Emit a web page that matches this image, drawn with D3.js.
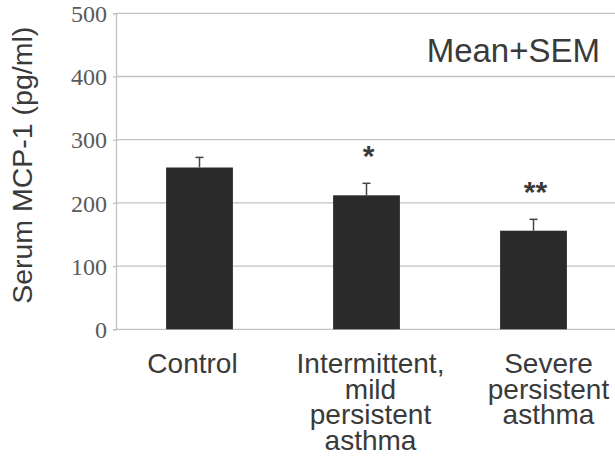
<!DOCTYPE html>
<html>
<head>
<meta charset="utf-8">
<script src="https://cdn.jsdelivr.net/npm/d3@7"></script>
<style>
  html, body { margin: 0; padding: 0; background: #fff; }
  svg { display: block; }
</style>
</head>
<body>
<svg id="chart" width="615" height="458"></svg>
<script>
// ---- data ----
const categories = ["Control", "Intermittent, mild persistent asthma", "Severe persistent asthma"];
const categoryLines = [["Control"], ["Intermittent,", "mild", "persistent", "asthma"], ["Severe", "persistent", "asthma"]];
const means = [256, 212, 156];
const sems = [16, 19, 18];
const significance = ["", "*", "**"];
const yTicks = [0, 100, 200, 300, 400, 500];
const yLabel = "Serum MCP-1 (pg/ml)";
const note = "Mean+SEM";

// ---- layout ----
const svg = d3.select("#chart");
const plotLeft = 116, plotRight = 617, plotTop = 13.3, plotBottom = 329.3;

const x = d3.scaleBand().domain(categories).range([plotLeft, plotRight]).paddingInner(0.6).paddingOuter(0.3);
const y = d3.scaleLinear().domain([0, 500]).range([plotBottom, plotTop]);

// gridlines
svg.append("g").selectAll("line").data(yTicks).join("line")
  .attr("x1", plotLeft).attr("x2", 615)
  .attr("y1", d => y(d)).attr("y2", d => y(d))
  .attr("stroke", "#c2c2c2").attr("stroke-width", 1.3);

// left axis
const yAxis = d3.axisLeft(y).tickValues(yTicks).tickSize(3).tickPadding(6);
const gy = svg.append("g").attr("transform", `translate(${plotLeft},0)`).call(yAxis);
gy.select(".domain").attr("stroke", "#c2c2c2").attr("stroke-width", 1.3);
gy.selectAll(".tick line").attr("stroke", "#c2c2c2").attr("stroke-width", 1.3);
gy.selectAll(".tick text")
  .attr("font-family", "'Liberation Serif', 'Times New Roman', serif")
  .attr("font-size", 24).attr("fill", "#5a5a5a").attr("dy", "0.34em");

// y label
svg.append("text")
  .attr("transform", `translate(32,${(plotTop + plotBottom) / 2 - 6}) rotate(-90)`)
  .attr("text-anchor", "middle")
  .attr("font-family", "'Liberation Sans', Arial, sans-serif")
  .attr("font-size", 28.5).attr("fill", "#3a3a3a")
  .text(yLabel);

// bars
const data = categories.map((c, i) => ({ c, m: means[i], s: sems[i], sig: significance[i], lines: categoryLines[i] }));
svg.append("g").selectAll("rect").data(data).join("rect")
  .attr("x", d => x(d.c)).attr("width", x.bandwidth())
  .attr("y", d => y(d.m)).attr("height", d => y(0) - y(d.m))
  .attr("fill", "#2a2a2a");

// error bars
const eg = svg.append("g").attr("stroke", "#444").attr("stroke-width", 1.5);
eg.selectAll("line.v").data(data).join("line").attr("class", "v")
  .attr("x1", d => x(d.c) + x.bandwidth() / 2).attr("x2", d => x(d.c) + x.bandwidth() / 2)
  .attr("y1", d => y(d.m)).attr("y2", d => y(d.m + d.s));
eg.selectAll("line.h").data(data).join("line").attr("class", "h")
  .attr("x1", d => x(d.c) + x.bandwidth() / 2 - 4).attr("x2", d => x(d.c) + x.bandwidth() / 2 + 4)
  .attr("y1", d => y(d.m + d.s)).attr("y2", d => y(d.m + d.s));

// significance stars
svg.append("g").selectAll("text").data(data.filter(d => d.sig)).join("text")
  .attr("x", d => x(d.c) + x.bandwidth() / 2 + 2)
  .attr("y", d => y(d.m + d.s) - 17)
  .attr("text-anchor", "middle")
  .attr("font-family", "'Liberation Sans', Arial, sans-serif")
  .attr("font-size", 30).attr("font-weight", "bold").attr("fill", "#3a3a3a")
  .text(d => d.sig);

// category labels
const xl = d3.scalePoint().domain(categories).range([x(categories[0]) + x.bandwidth() / 2 - 7, x(categories[2]) + x.bandwidth() / 2 + 15]);
const lg = svg.append("g")
  .attr("font-family", "'Liberation Sans', Arial, sans-serif")
  .attr("font-size", 28).attr("fill", "#3a3a3a").attr("text-anchor", "middle");
data.forEach(d => {
  const t = lg.append("text").attr("x", xl(d.c)).attr("y", 373);
  d.lines.forEach((ln, j) => {
    t.append("tspan").attr("x", xl(d.c)).attr("dy", j === 0 ? 0 : 25.5).text(ln);
  });
});

// note
svg.append("text")
  .attr("x", 600).attr("y", 62).attr("text-anchor", "end")
  .attr("font-family", "'Liberation Sans', Arial, sans-serif")
  .attr("font-size", 33).attr("fill", "#3a3a3a")
  .text(note);
</script>
</body>
</html>
